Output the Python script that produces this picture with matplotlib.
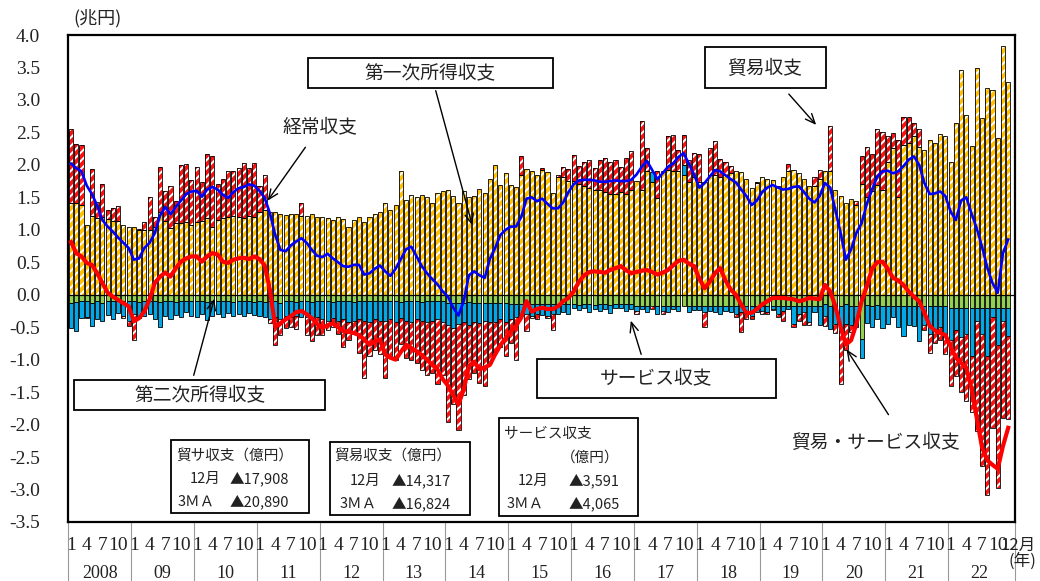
import numpy as np
import matplotlib.pyplot as plt
from matplotlib.patches import Rectangle

plt.rcParams['font.family'] = ['Noto Sans CJK JP', 'DejaVu Sans']
plt.rcParams['hatch.linewidth'] = 1.4

years = ['2008', '09', '10', '11', '12', '13', '14', '15', '16', '17', '18', '19', '20', '21', '22']
month_labels = ['1', '4', '7', '10']

# monthly values, 2008/1 - 2022/12 (trillion yen)
primary = [  # 第一次所得収支
    1.42, 1.41, 1.38, 1.07, 1.22, 1.18, 1.20, 1.16, 1.14, 1.13, 1.07, 1.05,
    1.04, 1.00, 1.00, 1.00, 1.05, 1.27, 1.13, 1.03, 1.10, 1.10, 1.12, 1.08,
    1.12, 1.14, 1.18, 1.05, 1.15, 1.18, 1.20, 1.22, 1.20, 1.18, 1.22, 1.20,
    1.28, 1.30, 1.28, 1.27, 1.25, 1.23, 1.24, 1.25, 1.21, 1.22, 1.24, 1.20,
    1.20, 1.18, 1.15, 1.20, 1.17, 1.05, 1.15, 1.20, 1.12, 1.20, 1.25, 1.28,
    1.41, 1.30, 1.38, 1.91, 1.46, 1.54, 1.51, 1.54, 1.50, 1.42, 1.56, 1.60,
    1.62, 1.52, 1.42, 1.59, 1.51, 1.52, 1.63, 1.56, 1.79, 2.00, 1.69, 1.88,
    1.69, 1.66, 1.85, 1.94, 1.91, 1.85, 1.92, 1.89, 1.57, 1.82, 1.82, 1.75,
    1.75, 1.70, 1.68, 1.65, 1.62, 1.62, 1.58, 1.55, 1.55, 1.58, 1.55, 1.62,
    1.75, 1.62, 1.90, 1.74, 1.49, 1.90, 1.92, 1.90, 1.90, 1.85, 1.74, 1.82,
    1.74, 1.74, 1.85, 1.85, 1.82, 1.85, 1.87, 1.90, 1.89, 1.79, 1.64, 1.72,
    1.82, 1.79, 1.77, 1.67, 1.82, 1.90, 1.92, 1.87, 1.79, 1.67, 1.67, 1.79,
    1.90, 1.90, 1.62, 1.52, 1.42, 1.47, 1.38, 1.71, 1.51, 1.59, 1.69, 1.62,
    2.05, 2.26, 1.51, 2.31, 2.33, 2.44, 2.28, 2.23, 2.38, 2.33, 2.48, 2.44,
    2.05, 2.64, 3.46, 2.77, 2.29, 3.49, 2.72, 3.18, 3.16, 2.41, 3.83, 3.28,
]

trade = [  # 貿易収支
    1.13, 0.91, 0.93, -0.02, 0.71, 0.25, 0.50, 0.14, 0.19, 0.24, -0.03, -0.08,
    -0.39, 0.02, 0.12, 0.51, 0.15, 0.70, 0.47, 0.64, 0.35, 0.90, 0.89, 0.69,
    0.85, 0.59, 0.98, 1.09, 0.55, 0.60, 0.71, 0.68, 0.75, 0.85, 0.73, 0.83,
    0.40, 0.55, -0.05, -0.42, -0.25, -0.20, -0.15, -0.20, 0.21, -0.27, -0.35, -0.27,
    -0.24, -0.15, -0.14, -0.20, -0.42, -0.27, -0.19, -0.52, -0.88, -0.53, -0.47, -0.52,
    -0.88, -0.57, -0.58, -0.40, -0.57, -0.58, -0.67, -0.75, -0.81, -0.80, -1.00, -0.81,
    -1.49, -1.17, -1.63, -1.13, -0.84, -0.78, -0.92, -1.01, -0.63, -0.48, -0.43, -0.53,
    -0.38, -0.65, 0.29, -0.26, -0.03, -0.08, 0.03, -0.03, -0.24, 0.02, 0.15, 0.18,
    0.40, 0.29, 0.37, 0.43, 0.33, 0.46, 0.52, 0.50, 0.53, 0.39, 0.55, 0.59,
    -0.05, 1.05, 0.36, -0.05, 0.41, -0.05, 0.52, 0.56, 0.33, 0.46, 0.34, 0.36,
    0.43, -0.22, 0.41, 0.51, 0.27, 0.20, 0.11, -0.05, -0.30, -0.08, -0.05, 0.02,
    -0.05, -0.03, -0.02, -0.05, -0.15, 0.12, -0.05, -0.12, -0.20, -0.05, 0.15, 0.13,
    -0.15, 0.70, -0.14, -0.88, -0.40, -0.12, 0.07, 0.43, 0.77, 0.58, 0.87, 0.88,
    0.40, 0.23, 0.87, 0.43, 0.40, 0.21, 0.27, -0.09, -0.30, -0.20, -0.20, -0.30,
    -0.71, -0.70, -0.85, -1.04, -0.85, -1.69, -2.04, -2.13, -1.70, -2.19, -1.50, -1.28,
]

services = [  # サービス収支
    -0.40, -0.45, -0.26, -0.24, -0.36, -0.28, -0.29, -0.21, -0.28, -0.18, -0.23, -0.30,
    -0.20, -0.25, -0.23, -0.20, -0.28, -0.38, -0.22, -0.28, -0.20, -0.25, -0.18, -0.23,
    -0.25, -0.20, -0.28, -0.22, -0.20, -0.25, -0.18, -0.22, -0.20, -0.22, -0.18, -0.20,
    -0.22, -0.23, -0.28, -0.25, -0.25, -0.22, -0.25, -0.22, -0.25, -0.25, -0.25, -0.25,
    -0.28, -0.30, -0.25, -0.30, -0.28, -0.32, -0.30, -0.28, -0.30, -0.32, -0.28, -0.30,
    -0.30, -0.28, -0.32, -0.25, -0.30, -0.32, -0.28, -0.30, -0.32, -0.30, -0.28, -0.32,
    -0.35, -0.40, -0.33, -0.30, -0.35, -0.30, -0.32, -0.28, -0.30, -0.30, -0.25, -0.30,
    -0.22, -0.20, -0.18, -0.15, -0.18, -0.15, -0.16, -0.18, -0.15, -0.14, -0.12, -0.14,
    -0.06, -0.08, -0.06, -0.12, -0.06, -0.10, -0.07, -0.12, -0.06, -0.05, -0.10, -0.07,
    -0.08, -0.05, -0.10, 0.15, -0.12, -0.08, -0.10, -0.05, -0.08, 0.15, -0.10, -0.06,
    -0.06, -0.10, -0.08, -0.10, -0.12, -0.08, -0.10, -0.12, -0.10, -0.12, -0.15, -0.10,
    -0.08, -0.10, -0.05, -0.12, -0.08, -0.05, -0.28, -0.12, -0.10, -0.25, -0.10, -0.30,
    -0.18, -0.35, -0.28, -0.32, -0.30, -0.28, -0.32, -0.30, -0.28, -0.32, -0.22, -0.35,
    -0.27, -0.17, -0.31, -0.46, -0.28, -0.30, -0.54, -0.28, -0.42, -0.37, -0.32, -0.44,
    -0.49, -0.35, -0.45, -0.40, -0.75, -0.21, -0.40, -0.75, -0.15, -0.58, -0.20, -0.44,
]

secondary = [  # 第二次所得収支
    -0.12, -0.11, -0.10, -0.10, -0.12, -0.10, -0.12, -0.10, -0.10, -0.10, -0.10, -0.10,
    -0.10, -0.11, -0.10, -0.09, -0.10, -0.11, -0.10, -0.10, -0.11, -0.10, -0.09, -0.10,
    -0.10, -0.10, -0.11, -0.10, -0.10, -0.09, -0.10, -0.11, -0.10, -0.10, -0.10, -0.11,
    -0.10, -0.11, -0.10, -0.10, -0.12, -0.10, -0.10, -0.11, -0.10, -0.10, -0.11, -0.10,
    -0.10, -0.10, -0.11, -0.10, -0.10, -0.10, -0.11, -0.10, -0.10, -0.10, -0.10, -0.10,
    -0.10, -0.10, -0.10, -0.11, -0.10, -0.10, -0.10, -0.11, -0.10, -0.10, -0.10, -0.10,
    -0.12, -0.12, -0.12, -0.12, -0.11, -0.12, -0.12, -0.12, -0.12, -0.12, -0.12, -0.12,
    -0.15, -0.15, -0.15, -0.15, -0.15, -0.15, -0.15, -0.15, -0.15, -0.15, -0.15, -0.15,
    -0.15, -0.16, -0.15, -0.15, -0.16, -0.15, -0.15, -0.16, -0.15, -0.15, -0.15, -0.15,
    -0.17, -0.17, -0.17, -0.17, -0.17, -0.17, -0.17, -0.17, -0.17, -0.17, -0.17, -0.17,
    -0.17, -0.17, -0.17, -0.17, -0.17, -0.17, -0.17, -0.17, -0.17, -0.17, -0.17, -0.17,
    -0.17, -0.17, -0.17, -0.17, -0.17, -0.17, -0.17, -0.17, -0.17, -0.17, -0.17, -0.17,
    -0.15, -0.18, -0.17, -0.18, -0.15, -0.18, -0.17, -0.68, -0.16, -0.18, -0.16, -0.17,
    -0.18, -0.18, -0.18, -0.18, -0.18, -0.18, -0.18, -0.18, -0.18, -0.18, -0.18, -0.18,
    -0.20, -0.20, -0.20, -0.20, -0.20, -0.20, -0.20, -0.20, -0.20, -0.20, -0.20, -0.20,
]

current = [  # 経常収支 (3MA)
    2.02, 1.95, 1.90, 1.68, 1.55, 1.37, 1.15, 1.05, 0.97, 0.88, 0.80, 0.72,
    0.54, 0.56, 0.72, 0.80, 0.95, 1.22, 1.35, 1.24, 1.35, 1.45, 1.55, 1.59,
    1.60, 1.51, 1.62, 1.66, 1.62, 1.54, 1.49, 1.58, 1.64, 1.66, 1.70, 1.68,
    1.60, 1.49, 1.25, 0.92, 0.69, 0.67, 0.76, 0.82, 0.87, 0.80, 0.69, 0.60,
    0.58, 0.63, 0.56, 0.50, 0.44, 0.43, 0.46, 0.46, 0.31, 0.33, 0.40, 0.45,
    0.36, 0.29, 0.40, 0.55, 0.70, 0.74, 0.59, 0.44, 0.33, 0.24, 0.16, 0.05,
    -0.03, -0.20, -0.32, -0.10, 0.30, 0.36, 0.30, 0.26, 0.55, 0.72, 0.92, 1.00,
    1.05, 1.05, 1.20, 1.48, 1.50, 1.44, 1.48, 1.40, 1.33, 1.33, 1.42, 1.58,
    1.70, 1.76, 1.77, 1.77, 1.76, 1.74, 1.74, 1.75, 1.76, 1.75, 1.75, 1.77,
    1.85, 1.97, 2.06, 1.92, 1.78, 1.87, 1.97, 2.02, 2.12, 2.18, 2.02, 1.85,
    1.65, 1.72, 1.82, 1.92, 1.90, 1.84, 1.78, 1.73, 1.62, 1.52, 1.38, 1.45,
    1.58, 1.65, 1.69, 1.65, 1.62, 1.63, 1.66, 1.67, 1.58, 1.48, 1.42, 1.52,
    1.72, 1.65, 1.30, 0.95, 0.54, 0.70, 0.95, 1.10, 1.40, 1.62, 1.82, 1.90,
    1.91, 1.87, 1.90, 1.98, 2.08, 2.13, 2.00, 1.72, 1.55, 1.56, 1.59, 1.52,
    1.28, 1.15, 1.45, 1.50, 1.25, 1.02, 0.74, 0.42, 0.18, 0.03, 0.64, 0.85,
]

trade_serv = [  # 貿易・サービス収支 (3MA)
    0.81, 0.64, 0.59, 0.49, 0.46, 0.33, 0.18, 0.03, -0.03, -0.08, -0.13, -0.18,
    -0.41, -0.36, -0.26, -0.07, 0.18, 0.28, 0.34, 0.28, 0.41, 0.51, 0.56, 0.59,
    0.59, 0.51, 0.59, 0.64, 0.62, 0.51, 0.49, 0.54, 0.56, 0.57, 0.55, 0.59,
    0.55, 0.45, 0.07, -0.49, -0.44, -0.38, -0.33, -0.27, -0.25, -0.30, -0.36, -0.45,
    -0.51, -0.47, -0.44, -0.50, -0.56, -0.57, -0.59, -0.62, -0.69, -0.77, -0.72, -0.69,
    -0.92, -0.97, -1.00, -0.88, -0.77, -0.82, -0.87, -0.93, -1.00, -1.08, -1.15, -1.30,
    -1.40, -1.55, -1.69, -1.46, -1.10, -1.03, -1.15, -1.12, -1.08, -0.92, -0.78, -0.67,
    -0.56, -0.48, -0.35, -0.10, -0.26, -0.22, -0.20, -0.22, -0.22, -0.18, -0.10, -0.05,
    0.05, 0.20, 0.30, 0.35, 0.36, 0.35, 0.34, 0.38, 0.41, 0.44, 0.38, 0.33,
    0.35, 0.37, 0.38, 0.35, 0.31, 0.34, 0.38, 0.45, 0.52, 0.54, 0.48, 0.44,
    0.25, 0.10, 0.20, 0.33, 0.41, 0.22, 0.08, 0.00, -0.15, -0.28, -0.28, -0.22,
    -0.15, -0.10, -0.05, -0.05, -0.05, -0.06, -0.07, -0.10, -0.08, -0.05, -0.06, -0.07,
    0.15, 0.05, -0.18, -0.50, -0.77, -0.70, -0.45, -0.10, 0.13, 0.40, 0.50, 0.51,
    0.40, 0.26, 0.22, 0.15, 0.05, -0.03, -0.10, -0.28, -0.48, -0.55, -0.59, -0.62,
    -0.80, -0.97, -1.05, -1.12, -1.45, -1.90, -2.35, -2.55, -2.62, -2.68, -2.33, -2.05,
]

W, H = 1040, 581
fig = plt.figure(figsize=(W / 100, H / 100), dpi=100)
ax = fig.add_axes([68 / W, (H - 522) / H, 947 / W, 487 / H])

x = np.arange(len(primary))
bw = 0.78
pos_base = np.zeros(len(x))
neg_base = np.zeros(len(x))


def stack(values, color, hatch=None):
    v = np.array(values)
    for part, base in ((np.clip(v, 0, None), pos_base), (np.clip(v, None, 0), neg_base)):
        m = part != 0
        if hatch:
            ax.bar(x[m], part[m], bw, bottom=base[m], color=color, edgecolor='white',
                   hatch=hatch, linewidth=0, zorder=2)
            ax.bar(x[m], part[m], bw, bottom=base[m], facecolor='none',
                   edgecolor='black', linewidth=0.6, zorder=2.1)
        else:
            ax.bar(x[m], part[m], bw, bottom=base[m], color=color,
                   edgecolor='black', linewidth=0.6, zorder=2)
        base += part


stack(primary, '#FFC000', '////')
stack(secondary, '#92D050')
stack(services, '#00A8E8')
stack(trade, '#FF1010', '////')

ax.axhline(0, color='black', lw=0.9, zorder=3)
ax.plot(x, current, color='#0000FF', lw=1.9, zorder=4)
ax.plot(x, trade_serv, color='#FF0000', lw=3.0, zorder=4.5)

ax.set_xlim(-0.58, 180.3)
ax.set_ylim(-3.5, 4.0)
yt = np.arange(-3.5, 4.01, 0.5)
ax.set_yticks(yt)
ax.set_yticklabels([f'{v:.1f}' for v in yt], fontfamily='Liberation Serif', fontsize=14, color='#222')
ax.tick_params(axis='y', length=0, pad=20)
ax.set_xticks([])
for s in ax.spines.values():
    s.set_linewidth(1.6)

# x labels: months, years and separators
tr = ax.get_xaxis_transform()
for k, yr in enumerate(years):
    for j, ml in enumerate(month_labels):
        ax.text(12 * k + 3 * j, -0.031, ml, transform=tr, ha='center', va='top',
                fontfamily='Liberation Serif', fontsize=14, color='#222')
    ax.text(12 * k + 5.5, -0.088, yr, transform=tr, ha='center', va='top',
            fontfamily='Liberation Serif', fontsize=13, color='#222')
    ax.plot([12 * k - 0.5] * 2, [0, -0.13], transform=tr, color='#999999', lw=0.8, clip_on=False)
ax.plot([180.3] * 2, [0, -0.13], transform=tr, color='#999999', lw=0.8, clip_on=False)
ax.text(177.6, -0.031, '12月', transform=tr, ha='left', va='top', fontsize=12, color='#222')
fig.text(1009 / W, 1 - 553 / H, '(年)', ha='left', va='top', fontsize=12, color='#222')
fig.text(73 / W, 1 - 18 / H, '(兆円)', ha='left', va='center', fontsize=13, color='#222')


def fx(px, py):
    return (px / W, 1 - py / H)


def box(x0, y0, x1, y1):
    ax.add_patch(Rectangle(fx(x0, y1), (x1 - x0) / W, (y1 - y0) / H, transform=fig.transFigure,
                           facecolor='white', edgecolor='black', lw=1.3, zorder=6, clip_on=False))


def label(px, py, s, size=13.5, ha='center'):
    ax.text(*fx(px, py), s, transform=fig.transFigure, ha=ha, va='center',
            fontsize=size, color='#222', zorder=7)


def arrow(start, end):
    ax.annotate('', xy=fx(*end), xytext=fx(*start), xycoords='figure fraction',
                textcoords='figure fraction', annotation_clip=False, zorder=7,
                arrowprops=dict(arrowstyle='->,head_length=0.7,head_width=0.3', lw=1.0, color='black'))


# callouts
box(308, 58, 553, 88)
label(430, 73, '第一次所得収支')
arrow((435, 88), (473, 228))
label(320, 127, '経常収支')
arrow((307, 145), (266, 203))
box(705, 47, 826, 88)
label(765, 68, '貿易収支')
arrow((787, 92), (818, 127))
box(537, 359, 776, 398)
label(656, 378, 'サービス収支')
arrow((642, 357), (630, 318))
box(74, 380, 325, 410)
label(200, 395, '第二次所得収支')
arrow((193, 378), (215, 296))
label(875, 442, '貿易・サービス収支')
arrow((890, 417), (845, 347))

# info boxes
fs = 10.5
box(171, 440, 309, 513)
label(176, 457, '貿サ収支（億円）', fs, 'left')
label(190, 479, '12月', fs, 'left')
label(230, 479, '▲17,908', fs, 'left')
label(178, 502, '3ＭＡ', fs, 'left')
label(230, 502, '▲20,890', fs, 'left')

box(330, 442, 470, 515)
label(334, 457, '貿易収支（億円）', fs, 'left')
label(350, 481, '12月', fs, 'left')
label(392, 481, '▲14,317', fs, 'left')
label(340, 504, '3ＭＡ', fs, 'left')
label(392, 504, '▲16,824', fs, 'left')

box(499, 418, 638, 516)
label(504, 434, 'サービス収支', fs, 'left')
label(561, 458, '（億円）', fs, 'left')
label(518, 481, '12月', fs, 'left')
label(569, 481, '▲3,591', fs, 'left')
label(507, 504, '3ＭＡ', fs, 'left')
label(569, 504, '▲4,065', fs, 'left')

fig.savefig('out.png', dpi=100)
